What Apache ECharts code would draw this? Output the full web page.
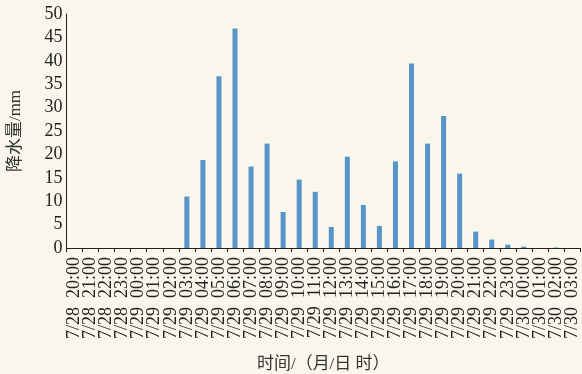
<!DOCTYPE html>
<html>
<head>
<meta charset="utf-8">
<style>
  html, body { margin: 0; padding: 0; background: #f9f6ec; }
  #chart { width: 582px; height: 374px; }
</style>
<script src="https://cdn.jsdelivr.net/npm/echarts@6/dist/echarts.min.js"></script>
</head>
<body>
<div id="chart"></div>
<script>
// Hourly rainfall, 7/28 20:00 to 7/30 03:00
const dates = [
  '7/28','7/28','7/28','7/28',
  '7/29','7/29','7/29','7/29','7/29','7/29','7/29','7/29','7/29','7/29','7/29','7/29',
  '7/29','7/29','7/29','7/29','7/29','7/29','7/29','7/29','7/29','7/29','7/29','7/29',
  '7/30','7/30','7/30','7/30'
];
const hours = [
  '20:00','21:00','22:00','23:00',
  '00:00','01:00','02:00','03:00','04:00','05:00','06:00','07:00','08:00','09:00','10:00','11:00',
  '12:00','13:00','14:00','15:00','16:00','17:00','18:00','19:00','20:00','21:00','22:00','23:00',
  '00:00','01:00','02:00','03:00'
];
const rainfall = [
  0, 0, 0, 0,
  0, 0, 0, 11.0, 18.8, 36.7, 46.9, 17.4, 22.3, 7.7, 14.6, 12.0,
  4.5, 19.5, 9.2, 4.7, 18.5, 39.4, 22.3, 28.2, 15.9, 3.5, 1.8, 0.7,
  0.3, 0, 0.1, 0
];
const yTicks = { min: 0, max: 50, step: 5 };

const categories = dates.map((d, i) => d + '  ' + hours[i]);
const serif = '"Liberation Serif", "Noto Sans CJK SC", serif';

const chart = echarts.init(document.getElementById('chart'), null, { renderer: 'canvas' });
chart.setOption({
  backgroundColor: '#f9f6ec',
  animation: false,
  grid: { left: 66.5, right: 2, top: 14, bottom: 126, containLabel: false, outerBoundsMode: 'none' },
  xAxis: {
    type: 'category',
    data: categories,
    boundaryGap: true,
    name: '时间/（月/日 时）',
    nameLocation: 'middle',
    nameGap: 108,
    nameTextStyle: { fontFamily: serif, fontSize: 17, color: '#333' },
    axisLine: { lineStyle: { color: '#222', width: 1 } },
    axisTick: { show: true, length: 4, alignWithLabel: false, lineStyle: { color: '#222' } },
    axisLabel: {
      rotate: 90, interval: 0, margin: 9,
      fontFamily: serif, fontSize: 18, color: '#222'
    }
  },
  yAxis: {
    type: 'value',
    min: yTicks.min, max: yTicks.max, interval: yTicks.step,
    name: '降水量/mm',
    nameLocation: 'middle',
    nameGap: 42,
    nameRotate: 90,
    nameTextStyle: { fontFamily: serif, fontSize: 17, color: '#333' },
    axisLine: { show: true, lineStyle: { color: '#222', width: 1 } },
    axisTick: { show: false },
    splitLine: { show: false },
    axisLabel: { margin: 4, fontFamily: serif, fontSize: 18, color: '#222' }
  },
  series: [{
    type: 'bar',
    data: rainfall,
    barWidth: 5,
    itemStyle: { color: '#5595c9' }
  }]
});
</script>
</body>
</html>
